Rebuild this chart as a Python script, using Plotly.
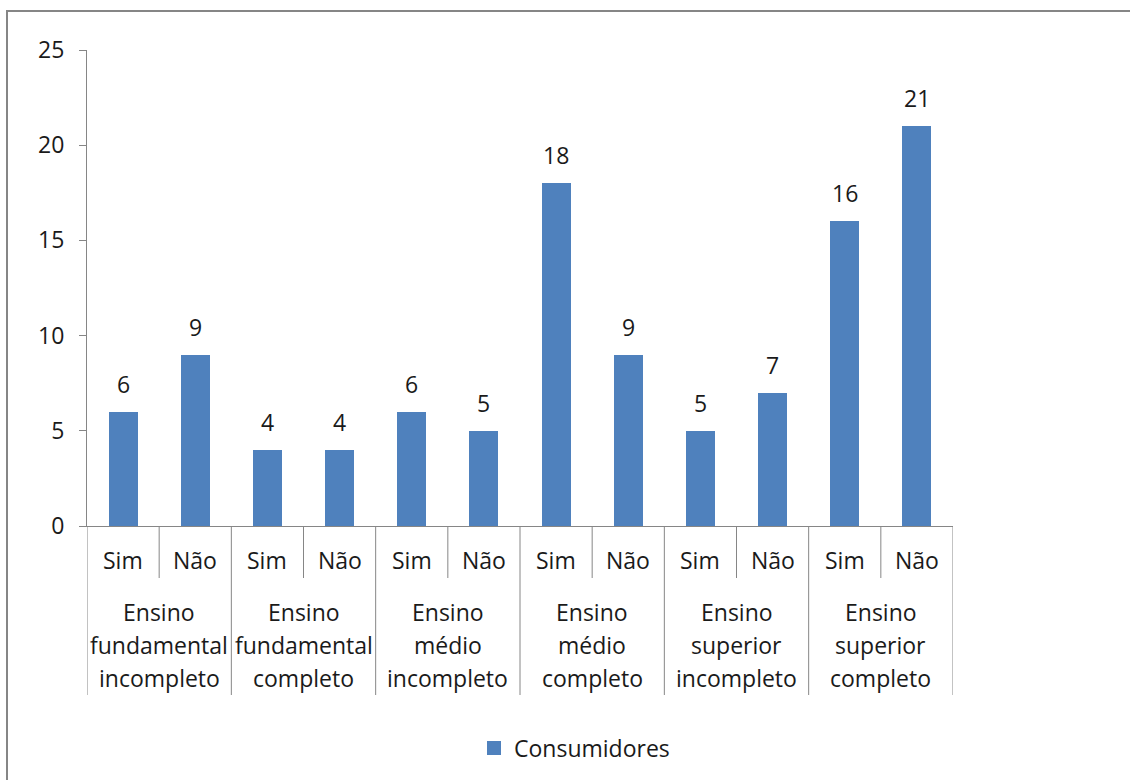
import plotly.graph_objects as go

groups = ["Ensino<br>fundamental<br>incompleto", "Ensino<br>fundamental<br>completo",
          "Ensino<br>médio<br>incompleto", "Ensino<br>médio<br>completo",
          "Ensino<br>superior<br>incompleto", "Ensino<br>superior<br>completo"]
subcats = ["Sim", "Não"]
values = [6, 9, 4, 4, 6, 5, 18, 9, 5, 7, 16, 21]
series_name = "Consumidores"
y_ticks = [0, 5, 10, 15, 20, 25]

W, H = 1130, 780
ML, MR, MT, MB = 87, 177, 50, 254
PW, PH = W - ML - MR, H - MT - MB
FONT = "Open Sans"
FS = 23
GRAY = "#868686"
TXT = "#1a1a1a"
BLUE = "#4F81BD"

n = len(values)
xs = list(range(n))

fig = go.Figure()
fig.add_trace(go.Bar(
    x=xs, y=values, width=0.4, name=series_name,
    marker=dict(color=BLUE, line=dict(width=0)),
    showlegend=False,
))
# legend entry (square marker)
fig.add_trace(go.Scatter(
    x=[None], y=[None], mode="markers", name=series_name,
    marker=dict(symbol="square", size=14, color=BLUE), showlegend=True,
))

shapes = []
annotations = []
# data labels
for i, v in zip(xs, values):
    annotations.append(dict(x=i, y=v, xref="x", yref="y", text=str(v),
                            showarrow=False, yanchor="middle", yshift=28,
                            font=dict(family=FONT, size=FS, color=TXT)))
# sub-category labels
for i in xs:
    annotations.append(dict(x=i, y=0, xref="x", yref="paper", text=subcats[i % 2],
                            showarrow=False, yanchor="middle", yshift=-34,
                            font=dict(family=FONT, size=FS, color=TXT)))
for g, label in enumerate(groups):
    c = 2 * g + 0.5
    lines = label.split("<br>")
    for k, ln in enumerate(lines):
        annotations.append(dict(x=c, y=0, xref="x", yref="paper", text=ln,
                                showarrow=False, yanchor="middle", yshift=-(86 + 33 * k),
                                font=dict(family=FONT, size=FS, color=TXT)))
    # short divider between Sim and Não
    shapes.append(dict(type="line", xref="x", yref="paper", x0=c, x1=c,
                       ysizemode="pixel", yanchor=0, y0=0, y1=-52,
                       line=dict(color=GRAY, width=1)))
# long dividers between groups
for g in range(len(groups) + 1):
    xb = 2 * g - 0.5
    shapes.append(dict(type="line", xref="x", yref="paper", x0=xb, x1=xb,
                       ysizemode="pixel", yanchor=0, y0=0, y1=-169,
                       line=dict(color=GRAY, width=1)))

def px_to_paper_x(px):
    return (px - ML) / PW

def px_to_paper_y(py):
    return (H - MB - py) / PH

# outer chart border
shapes.append(dict(type="rect", xref="paper", yref="paper",
                   x0=px_to_paper_x(7), x1=px_to_paper_x(1140),
                   y0=px_to_paper_y(790), y1=px_to_paper_y(11),
                   line=dict(color=GRAY, width=2), fillcolor="rgba(0,0,0,0)", layer="below"))

fig.update_layout(
    width=W, height=H,
    margin=dict(l=ML, r=MR, t=MT, b=MB, autoexpand=False),
    paper_bgcolor="white", plot_bgcolor="white",
    font=dict(family=FONT, size=FS, color=TXT),
    xaxis=dict(range=[-0.5, n - 0.5], showticklabels=False, ticks="", showgrid=False,
               zeroline=False, showline=True, linecolor=GRAY, linewidth=1, fixedrange=True),
    yaxis=dict(range=[0, 25], tickvals=y_ticks, showgrid=False, zeroline=False,
               showline=True, linecolor=GRAY, linewidth=1, ticks="outside", ticklen=7,
               tickcolor=GRAY, tickfont=dict(family=FONT, size=FS, color=TXT),
               ticklabelstandoff=10),
    showlegend=True,
    legend=dict(orientation="h", x=px_to_paper_x(474), xanchor="left",
                y=px_to_paper_y(748), yanchor="middle",
                font=dict(family=FONT, size=FS, color=TXT), bgcolor="rgba(0,0,0,0)"),
    shapes=shapes, annotations=annotations,
    bargap=0,
)

fig.write_html("out.html")
